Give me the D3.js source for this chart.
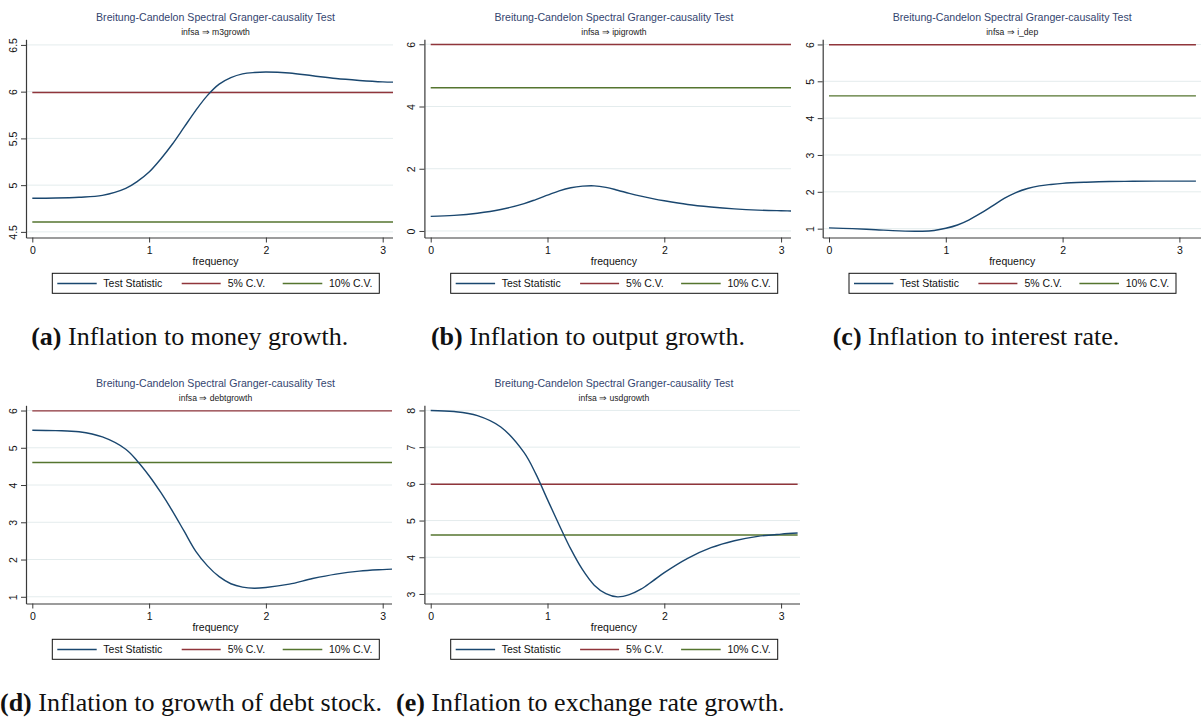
<!DOCTYPE html>
<html>
<head>
<meta charset="utf-8">
<script src="https://cdn.jsdelivr.net/npm/d3@7"></script>
<style>
  body { margin: 0; background: #fff; }
  svg { display: block; }
  text { font-family: "Liberation Sans", Arial, sans-serif; }
  .caption { font-family: "Liberation Serif", "Times New Roman", serif; }
</style>
</head>
<body>
<svg id="chart" width="1201" height="727"></svg>
<script>
// Frequency grid (radians, 0..pi) shared by all five spectral tests
const freq = [0, 0.2, 0.4, 0.6, 0.8, 0.9, 1.0, 1.1, 1.2, 1.3, 1.4, 1.5, 1.6, 1.7, 1.8, 1.9, 2.0, 2.2, 2.4, 2.6, 2.8, 3.0, Math.PI];

// Test statistics, one array per target variable
const statM3growth   = [4.86, 4.862, 4.87, 4.89, 4.965, 5.04, 5.14, 5.28, 5.44, 5.62, 5.80, 5.96, 6.08, 6.15, 6.19, 6.205, 6.21, 6.20, 6.17, 6.14, 6.12, 6.105, 6.10];
const statIpigrowth  = [0.47, 0.50, 0.57, 0.69, 0.88, 1.01, 1.15, 1.29, 1.39, 1.44, 1.45, 1.40, 1.31, 1.21, 1.12, 1.04, 0.97, 0.85, 0.77, 0.71, 0.67, 0.65, 0.64];
const statIdep       = [1.02, 1.00, 0.97, 0.94, 0.93, 0.95, 1.01, 1.10, 1.24, 1.42, 1.62, 1.82, 1.98, 2.09, 2.16, 2.20, 2.23, 2.26, 2.28, 2.285, 2.29, 2.29, 2.29];
const statDebtgrowth = [5.47, 5.46, 5.43, 5.29, 4.96, 4.64, 4.25, 3.80, 3.30, 2.76, 2.22, 1.83, 1.54, 1.35, 1.26, 1.23, 1.25, 1.34, 1.49, 1.61, 1.69, 1.73, 1.75];
const statUsdgrowth  = [8.00, 7.97, 7.86, 7.55, 6.85, 6.27, 5.57, 4.88, 4.22, 3.66, 3.24, 3.01, 2.92, 2.98, 3.13, 3.35, 3.58, 3.97, 4.26, 4.45, 4.57, 4.63, 4.66];

// Chi-square(2) critical values
const cv5 = 5.991;
const cv10 = 4.605;

// Axis ticks and ranges
const xTicks = [0, 1, 2, 3];
const xDomain = [-0.054, 3.185];
const yTicksM3   = [4.5, 5, 5.5, 6, 6.5];
const yTicksIpi  = [0, 2, 4, 6];
const yTicksIdep = [1, 2, 3, 4, 5, 6];
const yTicksDebt = [1, 2, 3, 4, 5, 6];
const yTicksUsd  = [3, 4, 5, 6, 7, 8];
const yDomainM3   = [4.44, 6.56];
const yDomainIpi  = [-0.21, 6.16];
const yDomainIdep = [0.76, 6.14];
const yDomainDebt = [0.82, 6.14];
const yDomainUsd  = [2.74, 8.14];

// Texts
const titleText = "Breitung-Candelon Spectral Granger-causality Test";
const subtitles = ["infsa ⇒ m3growth", "infsa ⇒ ipigrowth", "infsa ⇒ i_dep", "infsa ⇒ debtgrowth", "infsa ⇒ usdgrowth"];
const captionTags = ["(a)", "(b)", "(c)", "(d)", "(e)"];
const captionTexts = [" Inflation to money growth.", " Inflation to output growth.", " Inflation to interest rate.",
                      " Inflation to growth of debt stock.", " Inflation to exchange rate growth."];
const legendLabels = ["Test Statistic", "5% C.V.", "10% C.V."];
const xLabel = "frequency";

const colors = { stat: "#1a476f", cv5: "#90353b", cv10: "#55752f" };

const series = [statM3growth, statIpigrowth, statIdep, statDebtgrowth, statUsdgrowth];
const yTicksAll = [yTicksM3, yTicksIpi, yTicksIdep, yTicksDebt, yTicksUsd];
const yDomains = [yDomainM3, yDomainIpi, yDomainIdep, yDomainDebt, yDomainUsd];

// Placement of each sub-graph on the page
const layout = [
  { ax: 26,    top: 0,   clipR: 393,  capX: 189.7, capAnchor: "middle" },
  { ax: 424.4, top: 0,   clipR: 791,  capX: 588,   capAnchor: "middle" },
  { ax: 822.7, top: 0,   clipR: 1201, capX: 976,   capAnchor: "middle" },
  { ax: 26,    top: 366, clipR: 392,  capX: 0,     capAnchor: "start" },
  { ax: 424.4, top: 366, clipR: 800,  capX: 396,   capAnchor: "start" }
];
const plotW = 378.3, plotTop = 39.3, plotBottom = 237.5;
const captionBaseline = 345;
const fs = 10.5;

const svg = d3.select("#chart");
svg.append("rect").attr("width", 1201).attr("height", 727).attr("fill", "#fff");

layout.forEach((L, i) => {
  const g = svg.append("g");
  const t = L.top;
  const x = d3.scaleLinear().domain(xDomain).range([L.ax, L.ax + plotW]);
  const y = d3.scaleLinear().domain(yDomains[i]).range([t + plotBottom, t + plotTop]);
  const cx = L.ax + 189.5;

  const clipId = "clip" + i;
  svg.append("clipPath").attr("id", clipId)
    .append("rect").attr("x", L.ax - 40).attr("y", t).attr("width", L.clipR - (L.ax - 40)).attr("height", 300);
  const pg = g.append("g").attr("clip-path", `url(#${clipId})`);

  // horizontal grid
  pg.selectAll("line.grid").data(yTicksAll[i]).join("line")
    .attr("class", "grid")
    .attr("x1", x(xDomain[0])).attr("x2", x(xDomain[1]))
    .attr("y1", d => y(d)).attr("y2", d => y(d))
    .attr("stroke", "#e4eced").attr("stroke-width", 1);

  // critical values
  [[cv5, colors.cv5], [cv10, colors.cv10]].forEach(([v, c]) => {
    pg.append("line")
      .attr("x1", x(0)).attr("x2", x(Math.PI))
      .attr("y1", y(v)).attr("y2", y(v))
      .attr("stroke", c).attr("stroke-width", 1.4);
  });

  // test statistic
  const line = d3.line().x(d => x(d[0])).y(d => y(d[1])).curve(d3.curveCatmullRom.alpha(0.5));
  pg.append("path")
    .datum(freq.map((f, k) => [f, series[i][k]]))
    .attr("d", line)
    .attr("fill", "none").attr("stroke", colors.stat).attr("stroke-width", 1.4);

  // x axis
  const xa = pg.append("g").attr("transform", `translate(0,${t + plotBottom})`)
    .call(d3.axisBottom(x).tickValues(xTicks).tickSize(5).tickSizeOuter(0).tickPadding(4).tickFormat(d3.format("d")));
  xa.select(".domain").attr("stroke", "#3a3a3a").attr("stroke-width", 1.2);
  xa.selectAll(".tick line").attr("stroke", "#3a3a3a");
  xa.selectAll(".tick text").attr("font-size", fs).attr("fill", "#111");

  // y axis
  const ya = g.append("g").attr("transform", `translate(${L.ax},0)`)
    .call(d3.axisLeft(y).tickValues(yTicksAll[i]).tickSize(5).tickSizeOuter(0).tickFormat(d3.format("~g")));
  ya.select(".domain").attr("stroke", "#3a3a3a").attr("stroke-width", 1.2);
  ya.selectAll(".tick line").attr("stroke", "#3a3a3a");
  ya.selectAll(".tick text")
    .attr("x", 0).attr("dy", 0)
    .attr("transform", "translate(-9,0) rotate(-90)")
    .attr("text-anchor", "middle")
    .attr("font-size", fs).attr("fill", "#111");

  // titles
  g.append("text").attr("x", cx).attr("y", t + 21).attr("text-anchor", "middle")
    .attr("font-size", 10.6).attr("fill", "#34456f").text(titleText);
  g.append("text").attr("x", cx).attr("y", t + 34.5).attr("text-anchor", "middle")
    .attr("font-size", 8.6).attr("fill", "#222").text(subtitles[i]);

  // x axis title
  g.append("text").attr("x", cx).attr("y", t + 265).attr("text-anchor", "middle")
    .attr("font-size", fs).attr("fill", "#111").text(xLabel);

  // legend
  const lg = g.append("g").attr("transform", `translate(${L.ax},${t})`);
  lg.append("rect").attr("x", 26.3).attr("y", 273.3).attr("width", 327).attr("height", 20)
    .attr("fill", "#fff").attr("stroke", "#111").attr("stroke-width", 1);
  const legItems = [
    { x1: 31.3, x2: 70.7, tx: 77.3, c: colors.stat, label: legendLabels[0] },
    { x1: 155.7, x2: 194.7, tx: 201.7, c: colors.cv5, label: legendLabels[1] },
    { x1: 256.7, x2: 296.3, tx: 303, c: colors.cv10, label: legendLabels[2] }
  ];
  legItems.forEach(it => {
    lg.append("line").attr("x1", it.x1).attr("x2", it.x2).attr("y1", 283.5).attr("y2", 283.5)
      .attr("stroke", it.c).attr("stroke-width", 1.3);
    lg.append("text").attr("x", it.tx).attr("y", 287.3).attr("font-size", fs).attr("fill", "#111").text(it.label);
  });

  // caption
  const cap = svg.append("text").attr("class", "caption")
    .attr("x", L.capX).attr("y", t + captionBaseline).attr("text-anchor", L.capAnchor)
    .attr("font-size", 26).attr("fill", "#111");
  cap.append("tspan").attr("font-weight", "bold").text(captionTags[i]);
  cap.append("tspan").text(captionTexts[i]);
});
</script>
</body>
</html>
